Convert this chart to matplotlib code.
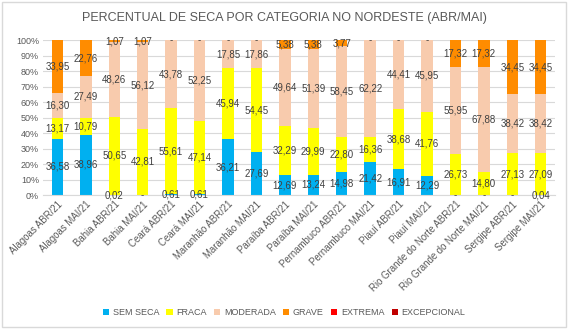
import numpy as np
import matplotlib.pyplot as plt
from matplotlib.patches import Rectangle

plt.rcParams['font.family'] = ['Liberation Sans', 'DejaVu Sans']

categorias = ['Alagoas ABR/21', 'Alagoas MAI/21', 'Bahia ABR/21', 'Bahia MAI/21',
              'Ceará ABR/21', 'Ceará MAI/21', 'Maranhão ABR/21', 'Maranhão MAI/21',
              'Paraíba ABR/21', 'Paraíba MAI/21', 'Pernambuco ABR/21', 'Pernambuco MAI/21',
              'Piauí ABR/21', 'Piauí MAI/21', 'Rio Grande do Norte ABR/21',
              'Rio Grande do Norte MAI/21', 'Sergipe ABR/21', 'Sergipe MAI/21']

sem_seca = [36.58, 38.96, 0.02, 0, 0.61, 0.61, 36.21, 27.69, 12.69, 13.24,
            14.98, 21.42, 16.91, 12.29, 0, 0, 0, 0.04]
fraca = [13.17, 10.79, 50.65, 42.81, 55.61, 47.14, 45.94, 54.45, 32.29, 29.99,
         22.80, 16.36, 38.68, 41.76, 26.73, 14.80, 27.13, 27.09]
moderada = [16.30, 27.49, 48.26, 56.12, 43.78, 52.25, 17.85, 17.86, 49.64, 51.39,
            58.45, 62.22, 44.41, 45.95, 55.95, 67.88, 38.42, 38.42]
grave = [33.95, 22.76, 1.07, 1.07, 0, 0, 0, 0, 5.38, 5.38,
         3.77, 0, 0, 0, 17.32, 17.32, 34.45, 34.45]
extrema = [0] * 18
excepcional = [0] * 18

series = [('SEM SECA', sem_seca, '#00B0F0'),
          ('FRACA', fraca, '#FFFF00'),
          ('MODERADA', moderada, '#F8CBAD'),
          ('GRAVE', grave, '#FF8C00'),
          ('EXTREMA', extrema, '#FF0000'),
          ('EXCEPCIONAL', excepcional, '#C00000')]

fig = plt.figure(figsize=(5.68, 3.29), dpi=100)
ax = fig.add_axes([0.076, 0.407, 0.901, 0.47])
fig.patches.append(Rectangle((0.003, 0.005), 0.994, 0.99, transform=fig.transFigure,
                             fill=False, edgecolor='#D9D9D9', linewidth=1))

x = np.arange(len(categorias))
bottom = np.zeros(len(categorias))
txt = '#404040'
fs = 7
for i, (nome, vals, cor) in enumerate(series):
    vals = np.array(vals, dtype=float)
    ax.bar(x, vals, 0.4, bottom=bottom, color=cor, label=nome, zorder=2)
    if i < 4:
        for xi, b, v in zip(x, bottom, vals):
            if v == 0:
                if i == 0:
                    ax.text(xi, 0, '-', ha='center', va='center', fontsize=fs, color=txt, zorder=3)
                elif i == 3:
                    ax.text(xi, 100, '-', ha='center', va='center', fontsize=fs, color=txt, zorder=3)
                continue
            ax.text(xi, b + v / 2, f'{v:.2f}'.replace('.', ','), ha='center', va='center',
                    fontsize=fs, color=txt, zorder=3)
    bottom += vals

ax.set_xlim(-0.5, len(categorias) - 0.5)
ax.set_ylim(0, 100)
ax.set_yticks(np.arange(0, 101, 10))
ax.set_yticklabels([f'{v}%' for v in range(0, 101, 10)], fontsize=6.5, color='#595959')
ax.set_xticks(x)
ax.set_xticklabels(categorias, rotation=45, ha='right', rotation_mode='anchor',
                   fontsize=6.9, color='#595959')
ax.tick_params(length=0, pad=3)
ax.grid(axis='y', color='#D9D9D9', linewidth=0.8, zorder=0)
for s in ['top', 'right', 'left']:
    ax.spines[s].set_visible(False)
ax.spines['bottom'].set_color('#D9D9D9')

fig.text(0.5, 0.945, 'PERCENTUAL DE SECA POR CATEGORIA NO NORDESTE (ABR/MAI)',
         ha='center', va='center', fontsize=9, color='#595959')
fig.legend(loc='center', bbox_to_anchor=(0.5, 0.05), ncol=6, frameon=False,
           fontsize=6.5, handlelength=0.7, handleheight=0.7, handletextpad=0.4,
           columnspacing=0.8, labelcolor='#595959')

fig.savefig('out.png', dpi=100)
